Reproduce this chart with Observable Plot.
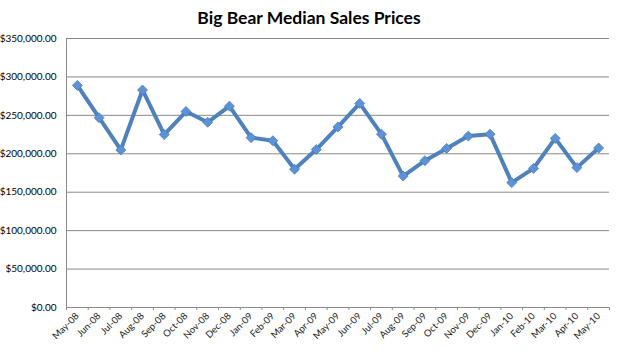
<!DOCTYPE html>
<html><head><meta charset="utf-8">
<script src="https://cdn.jsdelivr.net/npm/d3@7"></script>
<script src="https://cdn.jsdelivr.net/npm/@observablehq/plot@0.6"></script>
<style>
body{margin:0;background:#fff;font-family:Lato,"Open Sans",sans-serif;}
#title{height:30px;box-sizing:border-box;padding-top:8px;line-height:20px;text-align:center;font-weight:bold;font-size:17.5px;color:#000;width:618px;}
#chart svg{display:block;}
</style>
</head><body>
<div id="title">Big Bear Median Sales Prices</div>
<div id="chart"></div>
<script>
const months = ["May-08","Jun-08","Jul-08","Aug-08","Sep-08","Oct-08","Nov-08","Dec-08","Jan-09","Feb-09","Mar-09","Apr-09","May-09","Jun-09","Jul-09","Aug-09","Sep-09","Oct-09","Nov-09","Dec-09","Jan-10","Feb-10","Mar-10","Apr-10","May-10"];
const prices = [289000,247000,205000,283000,225000,255000,241000,262000,221000,217000,180000,205500,235000,265500,225500,171000,191000,207000,223000,225500,162500,181000,220000,182000,207500];
const yTicks = [0,50000,100000,150000,200000,250000,300000,350000];

const data = months.map((m,i) => ({month: m, price: prices[i]}));
const W = 618, H = 323, ML = 66, MR = 9, MT = 8, MB = 46;
const step = (W - ML - MR) / months.length;
const grey = "#8a8a8a";
const fmt = d3.format("$,.2f");

const chart = Plot.plot({
  width: W, height: H,
  marginLeft: ML, marginRight: MR, marginTop: MT, marginBottom: MB,
  style: {fontFamily: "Lato, 'Open Sans', sans-serif", background: "#fff", color: "#000"},
  x: {type: "point", domain: months, padding: 0.5, round: false, label: null},
  y: {domain: [0, 350000], label: null},
  marks: [
    Plot.ruleY(yTicks, {stroke: grey, strokeWidth: 1}),
    Plot.ruleX([months[0]], {dx: -step/2, stroke: grey, strokeWidth: 1}),
    Plot.axisY({ticks: yTicks, tickFormat: fmt, tickSize: 0, tickPadding: 10, fontSize: 10, label: null}),
    Plot.axisX(months, {tickSize: 3, tickFormat: () => "", dx: -step/2, stroke: grey, label: null}),
    Plot.axisX([months[months.length-1]], {tickSize: 3, tickFormat: () => "", dx: step/2, stroke: grey, label: null}),
    Plot.axisX({tickSize: 0, tickPadding: 7, tickRotate: -45, fontSize: 9.5, fill: "#222", label: null}),
    Plot.line(data, {x: "month", y: "price", stroke: "#4f81bd", strokeWidth: 4, strokeLinejoin: "round"}),
    Plot.dot(data, {x: "month", y: "price", symbol: "diamond2", r: 4.5, fill: "#5e92d6", stroke: "#4a7ebb", strokeWidth: 0.8})
  ]
});
document.getElementById("chart").appendChild(chart);
</script>
</body></html>
